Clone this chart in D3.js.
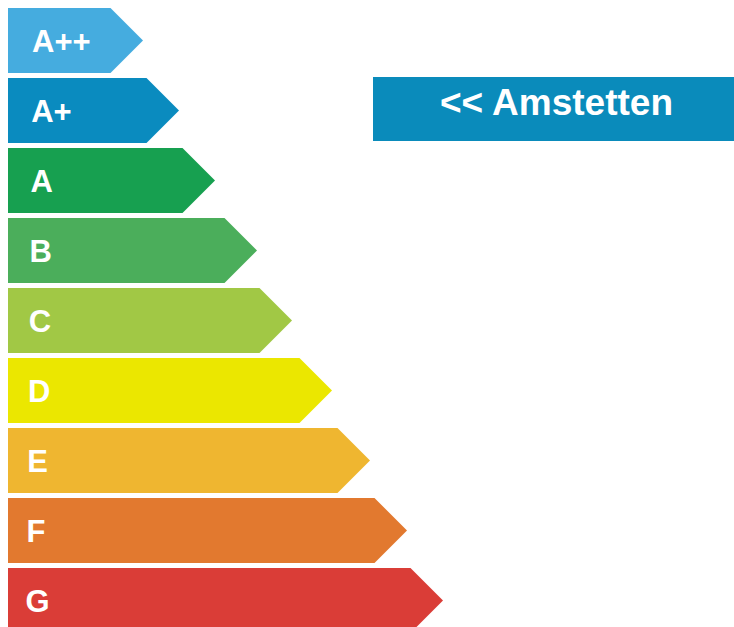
<!DOCTYPE html>
<html>
<head>
<meta charset="utf-8">
<script src="https://cdn.jsdelivr.net/npm/d3@7/dist/d3.min.js"></script>
<style>
  html, body { margin: 0; padding: 0; background: #ffffff; }
  svg { display: block; }
</style>
</head>
<body>
<svg id="chart" width="734" height="627"></svg>
<script>
// Data
const classes = ["A++", "A+", "A", "B", "C", "D", "E", "F", "G"];
const lengths = [135, 171, 207, 249, 284, 324, 362, 399, 435]; // arrow length (tip) in px units
const colors  = ["#45acdf", "#0a8bbf", "#17a050", "#4bae5b", "#a1c845", "#ebe700", "#efb630", "#e2792f", "#da3d37"];
const locationLabel = "<< Amstetten";

const svg = d3.select("#chart");
const W = 734, H = 627;

const y = d3.scaleBand().domain(classes).range([8, 633]).paddingInner(1 / 14).paddingOuter(0);
const x = d3.scaleLinear().domain([0, 435]).range([8, 443]);

const bh = y.bandwidth();
const tip = bh / 2;

const g = svg.append("g");

g.selectAll("path.bar")
  .data(classes)
  .join("path")
  .attr("class", "bar")
  .attr("fill", (d, i) => colors[i])
  .attr("d", (d, i) => {
    const x0 = x(0), x1 = x(lengths[i]);
    const y0 = y(d), y1 = y0 + bh;
    const p = d3.path();
    p.moveTo(x0, y0);
    p.lineTo(x1 - tip, y0);
    p.lineTo(x1, y0 + bh / 2);
    p.lineTo(x1 - tip, y1);
    p.lineTo(x0, y1);
    p.closePath();
    return p.toString();
  });

const fs = 31;
g.selectAll("text.lbl")
  .data(classes)
  .join("text")
  .attr("class", "lbl")
  .attr("x", (d, i) => 32 - i * 0.8)
  .attr("y", d => y(d) + bh / 2 + fs * 0.358)
  .attr("fill", "#ffffff")
  .attr("font-family", "'Liberation Sans', Arial, Helvetica, sans-serif")
  .attr("font-weight", "bold")
  .attr("font-size", fs)
  .text(d => d);

// Location box
const box = svg.append("g");
box.append("rect")
  .attr("x", 373).attr("y", 77)
  .attr("width", W - 373).attr("height", 64)
  .attr("fill", "#0a8bbb");
box.append("text")
  .attr("x", 556.5)
  .attr("y", 115)
  .attr("text-anchor", "middle")
  .attr("fill", "#ffffff")
  .attr("font-family", "'Liberation Sans', Arial, Helvetica, sans-serif")
  .attr("font-weight", "bold")
  .attr("font-size", 37)
  .text(locationLabel);
</script>
</body>
</html>
